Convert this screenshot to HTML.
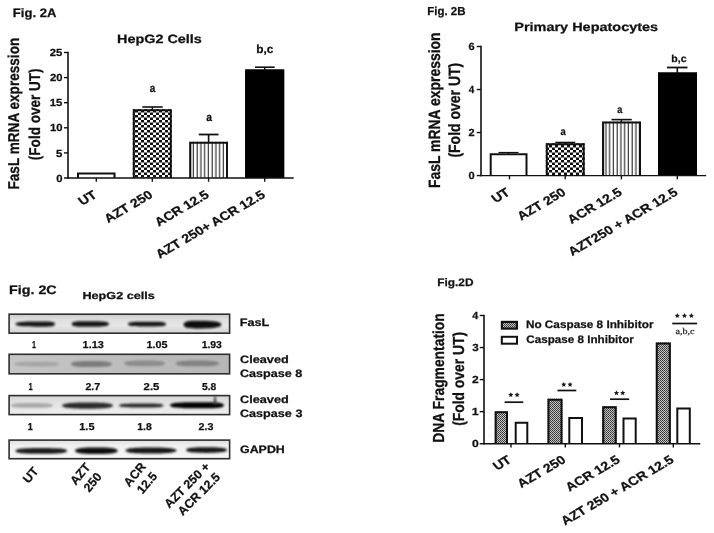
<!DOCTYPE html>
<html><head><meta charset="utf-8"><style>
html,body{margin:0;padding:0;background:#fff;}
svg{display:block;}
#all{filter:blur(0.3px);}
text{stroke:#111;stroke-width:0.25px;text-rendering:geometricPrecision;}
</style></head><body>
<svg width="714" height="533" viewBox="0 0 714 533">
<filter id="blur" x="-20%" y="-50%" width="140%" height="200%"><feGaussianBlur stdDeviation="1.1"/></filter>
<rect width="714" height="533" fill="#fff"/>
<g id="all">
<defs>
<pattern id="chk" x="0" y="0" width="6" height="5" patternUnits="userSpaceOnUse">
<rect width="6" height="5" fill="#111"/>
<rect x="0" y="0" width="3" height="2.5" fill="#fff"/>
<rect x="3" y="2.5" width="3" height="2.5" fill="#fff"/>
</pattern>
<pattern id="str" x="0" y="0" width="3.75" height="10" patternUnits="userSpaceOnUse">
<rect width="3.75" height="10" fill="#fff"/>
<rect x="1.6" y="0" width="1.1" height="10" fill="#222"/>
</pattern>
<pattern id="dot" x="0" y="0" width="2" height="2" patternUnits="userSpaceOnUse">
<rect width="2" height="2" fill="#c4c4c4"/>
<rect x="0" y="0" width="1" height="1" fill="#333"/>
<rect x="1" y="1" width="1" height="1" fill="#4a4a4a"/>
</pattern>
<linearGradient id="gF" x1="0" y1="0" x2="0" y2="1">
<stop offset="0" stop-color="#c8c8c8"/><stop offset="0.25" stop-color="#dedede"/><stop offset="0.6" stop-color="#e6e6e6"/><stop offset="1" stop-color="#d2d2d2"/>
</linearGradient>
<linearGradient id="g8" x1="0" y1="0" x2="1" y2="0">
<stop offset="0" stop-color="#c6c6c6"/><stop offset="0.5" stop-color="#bdbdbd"/><stop offset="1" stop-color="#b6b6b6"/>
</linearGradient>
<linearGradient id="g3" x1="0" y1="0" x2="0" y2="1">
<stop offset="0" stop-color="#d4d4d4"/><stop offset="0.35" stop-color="#e2e2e2"/><stop offset="1" stop-color="#efefef"/>
</linearGradient>
<linearGradient id="gG" x1="0" y1="0" x2="0" y2="1">
<stop offset="0" stop-color="#dedede"/><stop offset="0.3" stop-color="#f0f0f0"/><stop offset="1" stop-color="#f6f6f6"/>
</linearGradient>
</defs>
<text x="12.83" y="16.70" font-size="12.21" font-family="Liberation Sans" font-weight="bold" textLength="43.52" lengthAdjust="spacingAndGlyphs" fill="#111">Fig. 2A</text>
<text x="117.04" y="43.30" font-size="12.06" font-family="Liberation Sans" font-weight="bold" textLength="84.85" lengthAdjust="spacingAndGlyphs" fill="#111">HepG2 Cells</text>
<line x1="68.00" y1="51.80" x2="68.00" y2="178.70" stroke="#111" stroke-width="1.60"/>
<line x1="64.00" y1="52.50" x2="68.00" y2="52.50" stroke="#111" stroke-width="1.40"/>
<text x="49.81" y="56.10" font-size="10.32" font-family="Liberation Sans" font-weight="bold" textLength="12.60" lengthAdjust="spacingAndGlyphs" fill="#111">25</text>
<line x1="64.00" y1="77.60" x2="68.00" y2="77.60" stroke="#111" stroke-width="1.40"/>
<text x="49.96" y="81.20" font-size="10.32" font-family="Liberation Sans" font-weight="bold" textLength="12.60" lengthAdjust="spacingAndGlyphs" fill="#111">20</text>
<line x1="64.00" y1="102.70" x2="68.00" y2="102.70" stroke="#111" stroke-width="1.40"/>
<text x="49.81" y="106.30" font-size="10.32" font-family="Liberation Sans" font-weight="bold" textLength="12.60" lengthAdjust="spacingAndGlyphs" fill="#111">15</text>
<line x1="64.00" y1="127.80" x2="68.00" y2="127.80" stroke="#111" stroke-width="1.40"/>
<text x="49.96" y="131.40" font-size="10.32" font-family="Liberation Sans" font-weight="bold" textLength="12.60" lengthAdjust="spacingAndGlyphs" fill="#111">10</text>
<line x1="64.00" y1="152.90" x2="68.00" y2="152.90" stroke="#111" stroke-width="1.40"/>
<text x="56.11" y="156.50" font-size="10.32" font-family="Liberation Sans" font-weight="bold" textLength="6.30" lengthAdjust="spacingAndGlyphs" fill="#111">5</text>
<line x1="64.00" y1="178.00" x2="68.00" y2="178.00" stroke="#111" stroke-width="1.40"/>
<text x="56.26" y="181.60" font-size="10.32" font-family="Liberation Sans" font-weight="bold" textLength="6.30" lengthAdjust="spacingAndGlyphs" fill="#111">0</text>
<line x1="96.30" y1="178.00" x2="96.30" y2="181.70" stroke="#111" stroke-width="1.40"/>
<line x1="152.30" y1="178.00" x2="152.30" y2="181.70" stroke="#111" stroke-width="1.40"/>
<line x1="208.60" y1="178.00" x2="208.60" y2="181.70" stroke="#111" stroke-width="1.40"/>
<line x1="264.70" y1="178.00" x2="264.70" y2="181.70" stroke="#111" stroke-width="1.40"/>
<rect x="77.00" y="172.50" width="38.50" height="5.50" fill="#fff"/>
<path d="M78.00,178.00 V173.50 H114.50 V178.00" fill="none" stroke="#111" stroke-width="2.00"/>
<rect x="132.80" y="109.20" width="39.00" height="68.80" fill="url(#chk)"/>
<path d="M133.80,178.00 V110.20 H170.80 V178.00" fill="none" stroke="#111" stroke-width="2.00"/>
<rect x="189.30" y="141.70" width="38.70" height="36.30" fill="url(#str)"/>
<path d="M190.30,178.00 V142.70 H227.00 V178.00" fill="none" stroke="#111" stroke-width="2.00"/>
<rect x="245.20" y="69.50" width="39.00" height="108.50" fill="#000"/>
<path d="M246.20,178.00 V70.50 H283.20 V178.00" fill="none" stroke="#000" stroke-width="2.00"/>
<line x1="67.30" y1="178.00" x2="293.70" y2="178.00" stroke="#111" stroke-width="1.40"/>
<line x1="152.40" y1="107.00" x2="152.40" y2="110.00" stroke="#111" stroke-width="1.40"/>
<line x1="142.30" y1="107.00" x2="162.70" y2="107.00" stroke="#111" stroke-width="1.60"/>
<line x1="208.60" y1="134.50" x2="208.60" y2="142.50" stroke="#111" stroke-width="1.60"/>
<line x1="198.80" y1="134.50" x2="218.50" y2="134.50" stroke="#111" stroke-width="1.80"/>
<line x1="264.70" y1="67.20" x2="264.70" y2="70.00" stroke="#111" stroke-width="1.40"/>
<line x1="255.00" y1="67.20" x2="274.70" y2="67.20" stroke="#111" stroke-width="1.60"/>
<text x="149.71" y="92.00" font-size="11.63" font-family="Liberation Sans" font-weight="bold" textLength="5.53" lengthAdjust="spacingAndGlyphs" fill="#111">a</text>
<text x="206.20" y="121.20" font-size="11.63" font-family="Liberation Sans" font-weight="bold" textLength="5.74" lengthAdjust="spacingAndGlyphs" fill="#111">a</text>
<text x="256.22" y="53.30" font-size="11.63" font-family="Liberation Sans" font-weight="bold" textLength="17.13" lengthAdjust="spacingAndGlyphs" fill="#111">b,c</text>
<text transform="translate(19.10,189.50) scale(1.163,1) rotate(-90)" font-size="13.50" font-family="Liberation Sans" font-weight="bold" textLength="151.74" lengthAdjust="spacingAndGlyphs" fill="#111">FasL mRNA expression</text>
<text transform="translate(39.90,160.17) scale(1.163,1) rotate(-90)" font-size="13.50" font-family="Liberation Sans" font-weight="bold" textLength="91.75" lengthAdjust="spacingAndGlyphs" fill="#111">(Fold over UT)</text>
<text transform="translate(97.80,196.80) scale(1.170,1) rotate(-34.20)" text-anchor="end" font-size="12.10" font-family="Liberation Sans" font-weight="bold" fill="#111">UT</text>
<text transform="translate(153.80,196.80) scale(1.170,1) rotate(-34.20)" text-anchor="end" font-size="12.10" font-family="Liberation Sans" font-weight="bold" fill="#111">AZT 250</text>
<text transform="translate(210.10,196.80) scale(1.170,1) rotate(-34.20)" text-anchor="end" font-size="12.10" font-family="Liberation Sans" font-weight="bold" fill="#111">ACR 12.5</text>
<text transform="translate(266.20,196.80) scale(1.170,1) rotate(-34.20)" text-anchor="end" font-size="12.10" font-family="Liberation Sans" font-weight="bold" fill="#111">AZT 250+ ACR 12.5</text>
<text x="427.23" y="15.10" font-size="11.63" font-family="Liberation Sans" font-weight="bold" textLength="38.29" lengthAdjust="spacingAndGlyphs" fill="#111">Fig. 2B</text>
<text x="514.33" y="30.80" font-size="12.06" font-family="Liberation Sans" font-weight="bold" textLength="143.76" lengthAdjust="spacingAndGlyphs" fill="#111">Primary Hepatocytes</text>
<line x1="481.00" y1="45.80" x2="481.00" y2="176.30" stroke="#111" stroke-width="1.60"/>
<line x1="476.70" y1="46.50" x2="481.00" y2="46.50" stroke="#111" stroke-width="1.40"/>
<text x="468.60" y="50.10" font-size="10.32" font-family="Liberation Sans" font-weight="bold" textLength="6.10" lengthAdjust="spacingAndGlyphs" fill="#111">6</text>
<line x1="476.70" y1="89.53" x2="481.00" y2="89.53" stroke="#111" stroke-width="1.40"/>
<text x="468.85" y="93.13" font-size="10.32" font-family="Liberation Sans" font-weight="bold" textLength="5.50" lengthAdjust="spacingAndGlyphs" fill="#111">4</text>
<line x1="476.70" y1="132.56" x2="481.00" y2="132.56" stroke="#111" stroke-width="1.40"/>
<text x="468.62" y="136.16" font-size="10.32" font-family="Liberation Sans" font-weight="bold" textLength="6.12" lengthAdjust="spacingAndGlyphs" fill="#111">2</text>
<line x1="476.70" y1="175.59" x2="481.00" y2="175.59" stroke="#111" stroke-width="1.40"/>
<text x="468.56" y="179.19" font-size="10.32" font-family="Liberation Sans" font-weight="bold" textLength="6.20" lengthAdjust="spacingAndGlyphs" fill="#111">0</text>
<line x1="509.50" y1="175.60" x2="509.50" y2="179.30" stroke="#111" stroke-width="1.40"/>
<line x1="565.20" y1="175.60" x2="565.20" y2="179.30" stroke="#111" stroke-width="1.40"/>
<line x1="621.40" y1="175.60" x2="621.40" y2="179.30" stroke="#111" stroke-width="1.40"/>
<line x1="677.30" y1="175.60" x2="677.30" y2="179.30" stroke="#111" stroke-width="1.40"/>
<rect x="489.70" y="153.20" width="37.80" height="22.40" fill="#fff"/>
<path d="M490.70,175.60 V154.20 H526.50 V175.60" fill="none" stroke="#111" stroke-width="2.00"/>
<rect x="545.80" y="143.30" width="38.90" height="32.30" fill="url(#chk)"/>
<path d="M546.80,175.60 V144.30 H583.70 V175.60" fill="none" stroke="#111" stroke-width="2.00"/>
<rect x="602.10" y="121.60" width="38.90" height="54.00" fill="url(#str)"/>
<path d="M603.10,175.60 V122.60 H640.00 V175.60" fill="none" stroke="#111" stroke-width="2.00"/>
<rect x="658.00" y="72.50" width="39.00" height="103.10" fill="#000"/>
<path d="M659.00,175.60 V73.50 H696.00 V175.60" fill="none" stroke="#000" stroke-width="2.00"/>
<line x1="480.30" y1="175.60" x2="706.20" y2="175.60" stroke="#111" stroke-width="1.40"/>
<line x1="508.60" y1="152.50" x2="508.60" y2="154.00" stroke="#111" stroke-width="1.20"/>
<line x1="498.50" y1="152.50" x2="518.50" y2="152.50" stroke="#111" stroke-width="1.20"/>
<line x1="565.30" y1="142.50" x2="565.30" y2="144.00" stroke="#111" stroke-width="1.20"/>
<line x1="555.30" y1="142.50" x2="575.30" y2="142.50" stroke="#111" stroke-width="1.60"/>
<line x1="621.40" y1="119.60" x2="621.40" y2="122.50" stroke="#111" stroke-width="1.40"/>
<line x1="611.50" y1="119.60" x2="631.80" y2="119.60" stroke="#111" stroke-width="1.60"/>
<line x1="677.30" y1="67.50" x2="677.30" y2="73.00" stroke="#111" stroke-width="1.60"/>
<line x1="667.00" y1="67.50" x2="687.50" y2="67.50" stroke="#111" stroke-width="1.80"/>
<text x="560.53" y="134.70" font-size="10.47" font-family="Liberation Sans" font-weight="bold" textLength="5.22" lengthAdjust="spacingAndGlyphs" fill="#111">a</text>
<text x="617.23" y="113.00" font-size="10.47" font-family="Liberation Sans" font-weight="bold" textLength="5.11" lengthAdjust="spacingAndGlyphs" fill="#111">a</text>
<text x="671.30" y="61.70" font-size="10.17" font-family="Liberation Sans" font-weight="bold" textLength="15.31" lengthAdjust="spacingAndGlyphs" fill="#111">b,c</text>
<text transform="translate(440.20,188.03) scale(1.206,1) rotate(-90)" font-size="13.50" font-family="Liberation Sans" font-weight="bold" textLength="155.59" lengthAdjust="spacingAndGlyphs" fill="#111">FasL mRNA expression</text>
<text transform="translate(460.00,157.60) scale(1.206,1) rotate(-90)" font-size="13.50" font-family="Liberation Sans" font-weight="bold" textLength="94.89" lengthAdjust="spacingAndGlyphs" fill="#111">(Fold over UT)</text>
<text transform="translate(511.00,194.30) scale(1.170,1) rotate(-34.20)" text-anchor="end" font-size="12.10" font-family="Liberation Sans" font-weight="bold" fill="#111">UT</text>
<text transform="translate(566.70,194.30) scale(1.170,1) rotate(-34.20)" text-anchor="end" font-size="12.10" font-family="Liberation Sans" font-weight="bold" fill="#111">AZT 250</text>
<text transform="translate(622.90,194.30) scale(1.170,1) rotate(-34.20)" text-anchor="end" font-size="12.10" font-family="Liberation Sans" font-weight="bold" fill="#111">ACR 12.5</text>
<text transform="translate(678.80,194.30) scale(1.170,1) rotate(-34.20)" text-anchor="end" font-size="12.10" font-family="Liberation Sans" font-weight="bold" fill="#111">AZT250 + ACR 12.5</text>
<text x="9.04" y="294.20" font-size="12.21" font-family="Liberation Sans" font-weight="bold" textLength="47.65" lengthAdjust="spacingAndGlyphs" fill="#111">Fig. 2C</text>
<text x="82.45" y="298.70" font-size="10.17" font-family="Liberation Sans" font-weight="bold" textLength="72.36" lengthAdjust="spacingAndGlyphs" fill="#111">HepG2 cells</text>
<rect x="9.10" y="314.20" width="220.50" height="19.00" fill="url(#gF)" stroke="#2e2e2e" stroke-width="1.60"/>
<rect x="9.10" y="354.30" width="220.50" height="19.50" fill="url(#g8)" stroke="#2e2e2e" stroke-width="1.60"/>
<rect x="9.10" y="395.60" width="220.50" height="19.00" fill="url(#g3)" stroke="#2e2e2e" stroke-width="1.60"/>
<rect x="9.10" y="440.10" width="220.50" height="18.60" fill="url(#gG)" stroke="#2e2e2e" stroke-width="1.60"/>
<g filter="url(#blur)">
<path d="M15.50,324.10 C15.50,321.80 25.38,321.50 35.25,321.50 C45.12,321.50 55.00,320.70 55.00,324.10 C55.00,327.50 45.12,326.70 35.25,326.70 C25.38,326.70 15.50,326.40 15.50,324.10Z" fill="#121212"/>
<path d="M71.80,324.00 C71.80,320.70 81.10,321.30 90.40,321.30 C99.70,321.30 109.00,321.20 109.00,324.00 C109.00,326.80 99.70,326.70 90.40,326.70 C81.10,326.70 71.80,327.30 71.80,324.00Z" fill="#121212"/>
<path d="M128.00,324.10 C128.00,321.30 137.50,321.80 147.00,321.80 C156.50,321.80 166.00,321.10 166.00,324.10 C166.00,327.10 156.50,326.40 147.00,326.40 C137.50,326.40 128.00,326.90 128.00,324.10Z" fill="#141414"/>
<path d="M183.60,324.60 C183.60,320.00 193.05,320.80 202.50,320.80 C211.95,320.80 221.40,321.50 221.40,324.60 C221.40,327.70 211.95,328.40 202.50,328.40 C193.05,328.40 183.60,329.20 183.60,324.60Z" fill="#080808"/>
<path d="M14.00,364.10 C14.00,361.80 25.25,361.70 36.50,361.70 C47.75,361.70 59.00,361.50 59.00,364.10 C59.00,366.70 47.75,366.50 36.50,366.50 C25.25,366.50 14.00,366.40 14.00,364.10Z" fill="#a5a5a5"/>
<path d="M71.00,364.00 C71.00,361.00 81.25,360.90 91.50,360.90 C101.75,360.90 112.00,361.20 112.00,364.00 C112.00,366.80 101.75,367.10 91.50,367.10 C81.25,367.10 71.00,367.00 71.00,364.00Z" fill="#7c7c7c"/>
<path d="M124.00,363.40 C124.00,360.80 134.25,360.60 144.50,360.60 C154.75,360.60 165.00,360.80 165.00,363.40 C165.00,366.00 154.75,366.20 144.50,366.20 C134.25,366.20 124.00,366.00 124.00,363.40Z" fill="#8c8c8c"/>
<path d="M175.60,363.40 C175.60,360.80 186.45,360.50 197.30,360.50 C208.15,360.50 219.00,360.70 219.00,363.40 C219.00,366.10 208.15,366.30 197.30,366.30 C186.45,366.30 175.60,366.00 175.60,363.40Z" fill="#838383"/>
<path d="M11.00,405.40 C11.00,403.30 21.50,403.10 32.00,403.10 C42.50,403.10 53.00,403.30 53.00,405.40 C53.00,407.50 42.50,407.70 32.00,407.70 C21.50,407.70 11.00,407.50 11.00,405.40Z" fill="#a8a8a8"/>
<path d="M62.00,405.60 C62.00,402.90 74.75,402.40 87.50,402.40 C100.25,402.40 113.00,402.70 113.00,405.60 C113.00,408.50 100.25,408.80 87.50,408.80 C74.75,408.80 62.00,408.30 62.00,405.60Z" fill="#2a2a2a"/>
<path d="M119.00,405.40 C119.00,403.30 130.12,403.40 141.25,403.40 C152.38,403.40 163.50,403.10 163.50,405.40 C163.50,407.70 152.38,407.40 141.25,407.40 C130.12,407.40 119.00,407.50 119.00,405.40Z" fill="#2c2c2c"/>
<path d="M170.00,405.20 C170.00,402.30 183.50,402.20 197.00,402.20 C210.50,402.20 224.00,401.60 224.00,405.20 C224.00,408.80 210.50,408.20 197.00,408.20 C183.50,408.20 170.00,408.10 170.00,405.20Z" fill="#060606"/>
<path d="M15.50,450.90 C15.50,448.50 28.38,448.10 41.25,448.10 C54.12,448.10 67.00,448.40 67.00,450.90 C67.00,453.40 54.12,453.70 41.25,453.70 C28.38,453.70 15.50,453.30 15.50,450.90Z" fill="#1c1c1c"/>
<path d="M75.00,450.70 C75.00,447.70 85.67,447.40 96.35,447.40 C107.03,447.40 117.70,447.70 117.70,450.70 C117.70,453.70 107.03,454.00 96.35,454.00 C85.67,454.00 75.00,453.70 75.00,450.70Z" fill="#0c0c0c"/>
<path d="M125.60,450.40 C125.60,447.70 138.30,447.40 151.00,447.40 C163.70,447.40 176.40,447.80 176.40,450.40 C176.40,453.00 163.70,453.40 151.00,453.40 C138.30,453.40 125.60,453.10 125.60,450.40Z" fill="#161616"/>
<path d="M186.00,450.10 C186.00,447.50 196.25,447.30 206.50,447.30 C216.75,447.30 227.00,447.60 227.00,450.10 C227.00,452.60 216.75,452.90 206.50,452.90 C196.25,452.90 186.00,452.70 186.00,450.10Z" fill="#141414"/>
<path d="M214.4,395.6 L215.6,395.6 L216.6,404 L213.6,404Z" fill="#3a3a3a"/>
</g>
<text x="32.05" y="348.00" font-size="10.03" font-family="Liberation Sans" font-weight="bold" textLength="3.94" lengthAdjust="spacingAndGlyphs" fill="#111">1</text>
<text x="82.62" y="348.00" font-size="10.03" font-family="Liberation Sans" font-weight="bold" textLength="21.07" lengthAdjust="spacingAndGlyphs" fill="#111">1.13</text>
<text x="146.62" y="348.00" font-size="10.03" font-family="Liberation Sans" font-weight="bold" textLength="20.98" lengthAdjust="spacingAndGlyphs" fill="#111">1.05</text>
<text x="201.65" y="348.00" font-size="10.03" font-family="Liberation Sans" font-weight="bold" textLength="20.23" lengthAdjust="spacingAndGlyphs" fill="#111">1.93</text>
<text x="28.53" y="389.80" font-size="10.03" font-family="Liberation Sans" font-weight="bold" textLength="4.18" lengthAdjust="spacingAndGlyphs" fill="#111">1</text>
<text x="85.43" y="389.80" font-size="10.03" font-family="Liberation Sans" font-weight="bold" textLength="14.73" lengthAdjust="spacingAndGlyphs" fill="#111">2.7</text>
<text x="143.61" y="389.80" font-size="10.03" font-family="Liberation Sans" font-weight="bold" textLength="15.71" lengthAdjust="spacingAndGlyphs" fill="#111">2.5</text>
<text x="201.98" y="389.80" font-size="10.03" font-family="Liberation Sans" font-weight="bold" textLength="14.33" lengthAdjust="spacingAndGlyphs" fill="#111">5.8</text>
<text x="27.73" y="430.10" font-size="10.03" font-family="Liberation Sans" font-weight="bold" textLength="5.02" lengthAdjust="spacingAndGlyphs" fill="#111">1</text>
<text x="79.31" y="430.10" font-size="10.03" font-family="Liberation Sans" font-weight="bold" textLength="15.19" lengthAdjust="spacingAndGlyphs" fill="#111">1.5</text>
<text x="137.34" y="430.10" font-size="10.03" font-family="Liberation Sans" font-weight="bold" textLength="14.48" lengthAdjust="spacingAndGlyphs" fill="#111">1.8</text>
<text x="198.63" y="430.10" font-size="10.03" font-family="Liberation Sans" font-weight="bold" textLength="14.96" lengthAdjust="spacingAndGlyphs" fill="#111">2.3</text>
<text x="239.65" y="326.40" font-size="10.76" font-family="Liberation Sans" font-weight="bold" textLength="29.64" lengthAdjust="spacingAndGlyphs" fill="#111">FasL</text>
<text x="239.98" y="363.00" font-size="10.76" font-family="Liberation Sans" font-weight="bold" textLength="48.86" lengthAdjust="spacingAndGlyphs" fill="#111">Cleaved</text>
<text x="239.98" y="377.00" font-size="10.76" font-family="Liberation Sans" font-weight="bold" textLength="62.41" lengthAdjust="spacingAndGlyphs" fill="#111">Caspase 8</text>
<text x="239.98" y="403.20" font-size="10.76" font-family="Liberation Sans" font-weight="bold" textLength="48.86" lengthAdjust="spacingAndGlyphs" fill="#111">Cleaved</text>
<text x="239.98" y="416.50" font-size="10.76" font-family="Liberation Sans" font-weight="bold" textLength="62.47" lengthAdjust="spacingAndGlyphs" fill="#111">Caspase 3</text>
<text x="239.99" y="452.60" font-size="10.76" font-family="Liberation Sans" font-weight="bold" textLength="44.85" lengthAdjust="spacingAndGlyphs" fill="#111">GAPDH</text>
<g transform="translate(39.00,471.50) rotate(-50.00)">
<text x="0" y="0.00" text-anchor="end" font-size="12.30" font-family="Liberation Sans" font-weight="bold" fill="#111">UT</text>
</g>
<g transform="translate(91.00,467.50) rotate(-50.00)">
<text x="0" y="0.00" text-anchor="end" font-size="12.30" font-family="Liberation Sans" font-weight="bold" fill="#111">AZT</text>
<text x="0" y="14.80" text-anchor="end" font-size="12.30" font-family="Liberation Sans" font-weight="bold" fill="#111">250</text>
</g>
<g transform="translate(146.50,467.00) rotate(-50.00)">
<text x="0" y="0.00" text-anchor="end" font-size="12.30" font-family="Liberation Sans" font-weight="bold" fill="#111">ACR</text>
<text x="0" y="14.80" text-anchor="end" font-size="12.30" font-family="Liberation Sans" font-weight="bold" fill="#111">12.5</text>
</g>
<g transform="translate(210.50,467.50) rotate(-45.00)">
<text x="0" y="0.00" text-anchor="end" font-size="12.30" font-family="Liberation Sans" font-weight="bold" fill="#111">AZT 250 +</text>
<text x="0" y="14.80" text-anchor="end" font-size="12.30" font-family="Liberation Sans" font-weight="bold" fill="#111">ACR 12.5</text>
</g>
<text x="437.21" y="286.00" font-size="10.90" font-family="Liberation Sans" font-weight="bold" textLength="36.29" lengthAdjust="spacingAndGlyphs" fill="#111">Fig.2D</text>
<line x1="484.00" y1="314.80" x2="484.00" y2="444.40" stroke="#111" stroke-width="1.60"/>
<line x1="479.70" y1="315.50" x2="484.00" y2="315.50" stroke="#111" stroke-width="1.40"/>
<text x="472.34" y="319.10" font-size="10.32" font-family="Liberation Sans" font-weight="bold" textLength="6.02" lengthAdjust="spacingAndGlyphs" fill="#111">4</text>
<line x1="479.70" y1="347.55" x2="484.00" y2="347.55" stroke="#111" stroke-width="1.40"/>
<text x="472.23" y="351.15" font-size="10.32" font-family="Liberation Sans" font-weight="bold" textLength="6.49" lengthAdjust="spacingAndGlyphs" fill="#111">3</text>
<line x1="479.70" y1="379.60" x2="484.00" y2="379.60" stroke="#111" stroke-width="1.40"/>
<text x="472.08" y="383.20" font-size="10.32" font-family="Liberation Sans" font-weight="bold" textLength="6.70" lengthAdjust="spacingAndGlyphs" fill="#111">2</text>
<line x1="479.70" y1="411.65" x2="484.00" y2="411.65" stroke="#111" stroke-width="1.40"/>
<text x="471.71" y="415.25" font-size="10.32" font-family="Liberation Sans" font-weight="bold" textLength="6.93" lengthAdjust="spacingAndGlyphs" fill="#111">1</text>
<line x1="479.70" y1="443.70" x2="484.00" y2="443.70" stroke="#111" stroke-width="1.40"/>
<text x="472.02" y="447.30" font-size="10.32" font-family="Liberation Sans" font-weight="bold" textLength="6.78" lengthAdjust="spacingAndGlyphs" fill="#111">0</text>
<line x1="511.00" y1="443.70" x2="511.00" y2="447.40" stroke="#111" stroke-width="1.40"/>
<line x1="565.30" y1="443.70" x2="565.30" y2="447.40" stroke="#111" stroke-width="1.40"/>
<line x1="619.50" y1="443.70" x2="619.50" y2="447.40" stroke="#111" stroke-width="1.40"/>
<line x1="673.30" y1="443.70" x2="673.30" y2="447.40" stroke="#111" stroke-width="1.40"/>
<rect x="494.70" y="411.30" width="13.30" height="32.40" fill="url(#dot)"/>
<path d="M495.70,443.70 V412.30 H507.00 V443.70" fill="none" stroke="#111" stroke-width="2.00"/>
<rect x="514.70" y="421.70" width="13.60" height="22.00" fill="#fff"/>
<path d="M515.70,443.70 V422.70 H527.30 V443.70" fill="none" stroke="#111" stroke-width="2.00"/>
<rect x="547.50" y="398.70" width="15.00" height="45.00" fill="url(#dot)"/>
<path d="M548.50,443.70 V399.70 H561.50 V443.70" fill="none" stroke="#111" stroke-width="2.00"/>
<rect x="568.30" y="417.00" width="14.70" height="26.70" fill="#fff"/>
<path d="M569.30,443.70 V418.00 H582.00 V443.70" fill="none" stroke="#111" stroke-width="2.00"/>
<rect x="602.20" y="406.20" width="14.50" height="37.50" fill="url(#dot)"/>
<path d="M603.20,443.70 V407.20 H615.70 V443.70" fill="none" stroke="#111" stroke-width="2.00"/>
<rect x="622.50" y="417.50" width="14.20" height="26.20" fill="#fff"/>
<path d="M623.50,443.70 V418.50 H635.70 V443.70" fill="none" stroke="#111" stroke-width="2.00"/>
<rect x="655.80" y="342.50" width="15.00" height="101.20" fill="url(#dot)"/>
<path d="M656.80,443.70 V343.50 H669.80 V443.70" fill="none" stroke="#111" stroke-width="2.00"/>
<rect x="676.30" y="407.50" width="14.50" height="36.20" fill="#fff"/>
<path d="M677.30,443.70 V408.50 H689.80 V443.70" fill="none" stroke="#111" stroke-width="2.00"/>
<line x1="483.30" y1="443.70" x2="700.30" y2="443.70" stroke="#111" stroke-width="1.40"/>
<line x1="504.60" y1="402.20" x2="523.30" y2="402.20" stroke="#111" stroke-width="1.70"/>
<polygon points="510.80,392.20 511.56,393.85 513.37,394.07 512.03,395.30 512.39,397.08 510.80,396.20 509.21,397.08 509.57,395.30 508.23,394.07 510.04,393.85" fill="#1a1a1a"/>
<polygon points="517.10,392.20 517.86,393.85 519.67,394.07 518.33,395.30 518.69,397.08 517.10,396.20 515.51,397.08 515.87,395.30 514.53,394.07 516.34,393.85" fill="#1a1a1a"/>
<line x1="557.50" y1="390.50" x2="576.30" y2="390.50" stroke="#111" stroke-width="1.70"/>
<polygon points="563.75,381.90 564.51,383.55 566.32,383.77 564.98,385.00 565.34,386.78 563.75,385.90 562.16,386.78 562.52,385.00 561.18,383.77 562.99,383.55" fill="#1a1a1a"/>
<polygon points="570.05,381.90 570.81,383.55 572.62,383.77 571.28,385.00 571.64,386.78 570.05,385.90 568.46,386.78 568.82,385.00 567.48,383.77 569.29,383.55" fill="#1a1a1a"/>
<line x1="610.00" y1="399.20" x2="629.20" y2="399.20" stroke="#111" stroke-width="1.70"/>
<polygon points="616.45,390.30 617.21,391.95 619.02,392.17 617.68,393.40 618.04,395.18 616.45,394.30 614.86,395.18 615.22,393.40 613.88,392.17 615.69,391.95" fill="#1a1a1a"/>
<polygon points="622.75,390.30 623.51,391.95 625.32,392.17 623.98,393.40 624.34,395.18 622.75,394.30 621.16,395.18 621.52,393.40 620.18,392.17 621.99,391.95" fill="#1a1a1a"/>
<line x1="672.20" y1="323.50" x2="697.10" y2="323.50" stroke="#111" stroke-width="1.70"/>
<polygon points="677.30,313.10 678.06,314.75 679.87,314.97 678.53,316.20 678.89,317.98 677.30,317.10 675.71,317.98 676.07,316.20 674.73,314.97 676.54,314.75" fill="#1a1a1a"/>
<polygon points="684.50,313.10 685.26,314.75 687.07,314.97 685.73,316.20 686.09,317.98 684.50,317.10 682.91,317.98 683.27,316.20 681.93,314.97 683.74,314.75" fill="#1a1a1a"/>
<polygon points="691.40,313.10 692.16,314.75 693.97,314.97 692.63,316.20 692.99,317.98 691.40,317.10 689.81,317.98 690.17,316.20 688.83,314.97 690.64,314.75" fill="#1a1a1a"/>
<text x="675.45" y="334.40" font-size="8.72" font-family="Liberation Serif" font-weight="normal" textLength="18.96" lengthAdjust="spacingAndGlyphs" fill="#333">a,b,c</text>
<rect x="501.90" y="321.90" width="15.00" height="6.70" fill="url(#dot)" stroke="#111" stroke-width="2.20"/>
<rect x="501.80" y="336.80" width="15.20" height="6.90" fill="#fff" stroke="#111" stroke-width="2.00"/>
<text x="525.91" y="328.30" font-size="10.90" font-family="Liberation Sans" font-weight="bold" textLength="127.57" lengthAdjust="spacingAndGlyphs" fill="#111">No Caspase 8 Inhibitor</text>
<text x="526.22" y="343.20" font-size="10.90" font-family="Liberation Sans" font-weight="bold" textLength="107.66" lengthAdjust="spacingAndGlyphs" fill="#111">Caspase 8 Inhibitor</text>
<text transform="translate(444.20,442.72) scale(1.184,1) rotate(-90)" font-size="13.50" font-family="Liberation Sans" font-weight="bold" textLength="129.48" lengthAdjust="spacingAndGlyphs" fill="#111">DNA Fragmentation</text>
<text transform="translate(463.90,425.79) scale(1.184,1) rotate(-90)" font-size="13.50" font-family="Liberation Sans" font-weight="bold" textLength="93.78" lengthAdjust="spacingAndGlyphs" fill="#111">(Fold over UT)</text>
<text transform="translate(512.50,461.80) scale(1.170,1) rotate(-34.20)" text-anchor="end" font-size="12.10" font-family="Liberation Sans" font-weight="bold" fill="#111">UT</text>
<text transform="translate(566.80,461.80) scale(1.170,1) rotate(-34.20)" text-anchor="end" font-size="12.10" font-family="Liberation Sans" font-weight="bold" fill="#111">AZT 250</text>
<text transform="translate(621.00,461.80) scale(1.170,1) rotate(-34.20)" text-anchor="end" font-size="12.10" font-family="Liberation Sans" font-weight="bold" fill="#111">ACR 12.5</text>
<text transform="translate(674.80,461.80) scale(1.170,1) rotate(-34.20)" text-anchor="end" font-size="12.10" font-family="Liberation Sans" font-weight="bold" fill="#111">AZT 250 + ACR 12.5</text>
</g>
</svg>
</body></html>
